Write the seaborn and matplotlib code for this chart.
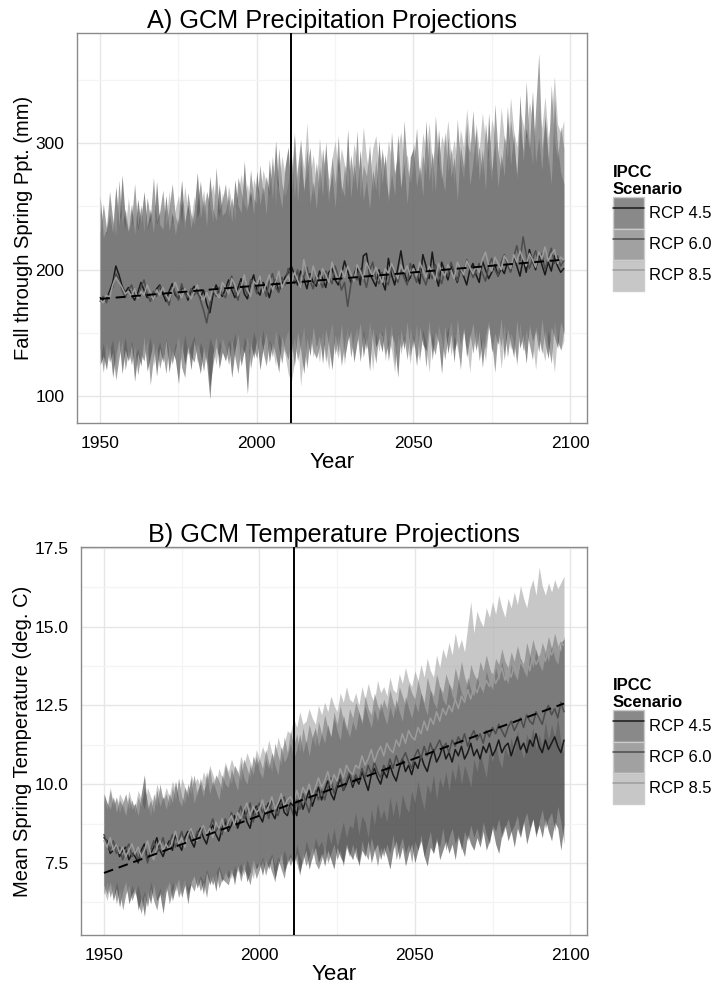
import numpy as np
import pandas as pd
import matplotlib
matplotlib.use("Agg")
import matplotlib.pyplot as plt
import seaborn as sns
from matplotlib.patches import Patch
from matplotlib.lines import Line2D
from matplotlib.ticker import MultipleLocator, FixedLocator
from matplotlib.colors import to_rgba

years = list(range(1950, 2099))
scenarios = ["RCP 4.5", "RCP 6.0", "RCP 8.5"]
vline_year = 2011
trend_years = [1950, 2098]

# ---- A) precipitation (mm) ----
ppt_mean_45 = [
    178, 176, 177, 183, 190, 203, 196, 187, 182, 186,
    180, 176, 182, 190, 184, 178, 181, 176, 185, 188,
    181, 175, 183, 189, 180, 177, 186, 184, 176, 183,
    187, 182, 178, 184, 173, 166, 180, 188, 182, 179,
    185, 192, 184, 178, 186, 193, 181, 177, 189, 196,
    184, 180, 190, 186, 178, 188, 192, 183, 189, 194,
    198, 203, 196, 188, 199, 193, 185, 197, 190, 187,
    199, 193, 186, 198, 201, 192, 188, 196, 207, 199,
    190, 196, 203, 188, 211, 213, 197, 192, 187, 200,
    191, 184, 209, 196, 188, 201, 215, 199, 190, 194,
    204, 197, 189, 212, 203, 193, 214, 196, 187, 206,
    199, 192, 203, 197, 190, 201, 195, 188, 200, 205,
    196, 190, 207, 200, 193, 198, 204, 195, 201, 197,
    206, 199, 211, 203, 195, 208, 198, 216, 207, 200,
    212, 204, 196, 206, 199, 211, 203, 198, 201]
ppt_mean_60 = [
    175, 179, 174, 181, 186, 197, 192, 184, 178, 184,
    188, 181, 177, 186, 192, 181, 175, 183, 179, 187,
    184, 178, 172, 186, 182, 176, 189, 181, 178, 185,
    180, 184, 176, 168, 158, 172, 184, 179, 186, 181,
    178, 188, 195, 182, 176, 190, 186, 180, 192, 189,
    181, 193, 187, 179, 191, 197, 186, 182, 194, 188,
    201, 195, 189, 200, 186, 194, 202, 191, 185, 196,
    192, 186, 199, 194, 189, 203, 195, 184, 190, 171,
    188, 197, 192, 201, 195, 186, 199, 206, 193, 189,
    198, 192, 188, 203, 196, 190, 200, 194, 188, 205,
    197, 190, 201, 194, 188, 199, 193, 204, 196, 189,
    200, 195, 206, 198, 191, 202, 197, 208, 201, 194,
    199, 205, 197, 191, 203, 209, 200, 195, 206, 212,
    204, 198, 210, 219, 207, 226, 212, 201, 208, 215,
    206, 213, 200, 209, 217, 205, 211, 203, 207]
ppt_mean_85 = [
    176, 174, 180, 178, 188, 194, 190, 186, 181, 183,
    179, 185, 177, 183, 180, 188, 182, 176, 184, 180,
    186, 180, 176, 184, 190, 183, 178, 185, 181, 177,
    183, 188, 180, 176, 182, 176, 186, 181, 178, 190,
    186, 181, 193, 188, 180, 186, 196, 184, 179, 191,
    188, 195, 182, 189, 196, 184, 190, 199, 186, 191,
    195, 189, 198, 192, 186, 208, 197, 190, 203, 195,
    189, 201, 196, 190, 206, 198, 192, 200, 194, 203,
    197, 191, 204, 199, 193, 206, 200, 195, 202, 196,
    190, 201, 197, 205, 199, 193, 204, 198, 203, 196,
    201, 195, 206, 200, 194, 203, 198, 192, 205, 199,
    195, 204, 199, 193, 206, 201, 196, 207, 202, 197,
    203, 198, 208, 214, 204, 199, 210, 205, 200, 211,
    207, 201, 212, 206, 215, 209, 203, 213, 208, 202,
    214, 209, 218, 207, 212, 216, 205, 210, 208]

ppt_hi_45 = [
    258, 226, 231, 244, 229, 266, 235, 275, 241, 230,
    252, 228, 256, 237, 262, 233, 248, 229, 270, 236,
    232, 259, 231, 245, 228, 242, 271, 238, 251, 233,
    247, 277, 241, 256, 235, 274, 248, 239, 268, 243,
    246, 259, 238, 271, 251, 245, 286, 249, 262, 244,
    278, 251, 266, 244, 287, 256, 302, 263, 249, 281,
    297, 259, 306, 254, 288, 263, 296, 252, 270, 248,
    283, 258, 301, 261, 276, 249, 289, 266, 258, 311,
    257, 284, 262, 295, 255, 271, 248, 279, 263, 302,
    268, 291, 254, 276, 259, 307, 265, 284, 252, 289,
    296, 266, 281, 258, 318, 270, 293, 262, 311, 276,
    262, 305, 273, 289, 255, 298, 281, 316, 267, 285,
    311, 271, 295, 263, 324, 278, 301, 265, 291, 274,
    329, 283, 307, 272, 338, 286, 312, 296, 341, 285,
    305, 279, 322, 291, 268, 336, 297, 277, 268]
ppt_lo_45 = [
    125, 132, 121, 140, 115, 133, 145, 118, 137, 128,
    141, 112, 134, 124, 147, 120, 131, 143, 116, 138,
    127, 145, 119, 136, 129, 110, 142, 125, 139, 121,
    144, 130, 118, 139, 126, 98, 133, 147, 122, 135,
    128, 141, 115, 136, 149, 124, 137, 102, 143, 130,
    146, 121, 138, 150, 127, 142, 133, 119, 148, 136,
    129, 145, 124, 151, 137, 118, 146, 132, 155, 139,
    148, 126, 153, 140, 121, 149, 135, 157, 130, 144,
    152, 127, 143, 158, 131, 147, 120, 154, 139, 146,
    135, 156, 128, 149, 142, 115, 153, 137, 159, 132,
    147, 124, 155, 141, 136, 160, 129, 151, 143, 118,
    156, 134, 149, 127, 161, 140, 153, 131, 146, 158,
    137, 152, 123, 148, 159, 135, 150, 141, 162, 129,
    154, 143, 131, 160, 138, 149, 126, 157, 144, 152,
    135, 161, 142, 130, 155, 147, 138, 159, 150]
ppt_hi_60 = [
    229, 252, 233, 262, 240, 227, 271, 236, 248, 231,
    239, 268, 234, 251, 230, 257, 241, 273, 238, 246,
    263, 235, 249, 268, 242, 236, 255, 232, 261, 244,
    236, 253, 270, 245, 262, 251, 238, 281, 247, 255,
    268, 242, 257, 239, 273, 262, 251, 247, 279, 256,
    252, 283, 259, 274, 261, 290, 251, 296, 268, 258,
    269, 293, 257, 281, 303, 262, 279, 297, 258, 285,
    261, 296, 272, 253, 289, 268, 306, 259, 282, 264,
    291, 268, 310, 257, 283, 274, 299, 262, 287, 255,
    296, 273, 258, 309, 276, 290, 263, 318, 281, 269,
    283, 312, 269, 291, 275, 304, 261, 322, 286, 271,
    309, 277, 296, 268, 319, 284, 272, 301, 293, 326,
    281, 297, 275, 316, 289, 270, 331, 292, 279, 306,
    288, 318, 299, 276, 312, 294, 349, 301, 283, 327,
    371, 296, 318, 283, 346, 301, 288, 313, 296]
ppt_lo_60 = [
    138, 119, 142, 127, 135, 113, 130, 144, 121, 136,
    125, 140, 117, 133, 128, 145, 109, 131, 139, 122,
    134, 118, 141, 126, 137, 148, 123, 115, 140, 131,
    127, 142, 133, 120, 137, 108, 125, 139, 131, 146,
    138, 125, 144, 131, 118, 140, 134, 147, 122, 137,
    130, 149, 135, 124, 143, 131, 152, 138, 126, 145,
    152, 133, 147, 128, 141, 155, 122, 149, 136, 130,
    139, 151, 127, 146, 158, 133, 148, 124, 142, 155,
    131, 146, 154, 128, 149, 137, 159, 143, 126, 151,
    148, 133, 141, 157, 125, 150, 138, 146, 129, 155,
    138, 157, 131, 148, 123, 152, 140, 133, 156, 145,
    129, 147, 159, 136, 144, 121, 155, 138, 150, 134,
    153, 128, 145, 137, 156, 142, 119, 151, 139, 157,
    131, 150, 144, 127, 158, 136, 153, 141, 129, 155,
    147, 134, 153, 140, 126, 159, 143, 137, 152]
ppt_hi_85 = [
    246, 233, 228, 254, 236, 263, 238, 245, 232, 257,
    235, 249, 231, 244, 258, 232, 239, 252, 236, 243,
    250, 238, 262, 236, 248, 259, 237, 266, 245, 240,
    258, 241, 249, 263, 244, 255, 268, 250, 242, 261,
    249, 266, 252, 244, 260, 276, 255, 268, 250, 272,
    263, 257, 279, 268, 259, 283, 271, 264, 290, 275,
    286, 273, 309, 268, 299, 280, 316, 275, 291, 269,
    304, 279, 293, 271, 288, 302, 276, 296, 283, 278,
    272, 300, 285, 277, 313, 289, 273, 296, 306, 281,
    293, 278, 302, 287, 275, 296, 309, 284, 291, 272,
    301, 287, 279, 308, 293, 316, 285, 298, 281, 306,
    296, 318, 289, 303, 283, 311, 297, 327, 302, 290,
    315, 295, 324, 301, 287, 319, 306, 293, 328, 304,
    299, 336, 310, 297, 326, 315, 303, 333, 318, 306,
    328, 312, 337, 304, 321, 353, 315, 308, 318]
ppt_lo_85 = [
    131, 142, 126, 137, 145, 122, 139, 133, 147, 128,
    144, 131, 138, 126, 141, 135, 147, 124, 136, 143,
    130, 146, 134, 125, 143, 136, 128, 149, 133, 141,
    148, 127, 143, 135, 130, 146, 139, 125, 144, 137,
    129, 145, 138, 150, 132, 126, 147, 140, 135, 151,
    142, 136, 153, 129, 145, 138, 124, 150, 141, 133,
    118, 111, 127, 146, 108, 136, 124, 150, 131, 143,
    127, 148, 136, 121, 152, 139, 130, 147, 125, 154,
    141, 134, 149, 127, 153, 138, 146, 121, 150, 135,
    152, 128, 145, 137, 119, 151, 133, 148, 140, 126,
    149, 136, 128, 153, 142, 119, 150, 137, 145, 131,
    144, 155, 132, 148, 138, 126, 152, 141, 119, 147,
    136, 150, 142, 128, 155, 140, 133, 149, 122, 146,
    153, 137, 147, 124, 151, 139, 132, 156, 144, 121,
    148, 138, 128, 152, 141, 119, 150, 136, 144]
ppt_trend = [177, 208]

# ---- B) spring temperature (deg C) ----
tmp_mean_45 = [
    8.3, 8.2, 7.8, 7.9, 8.1, 7.7, 7.9, 8.0, 7.6, 7.8,
    7.7, 7.5, 7.9, 8.1, 7.6, 7.8, 8.0, 8.3, 7.9, 7.7,
    8.0, 8.2, 7.9, 8.4, 8.1, 7.9, 8.3, 8.5, 8.2, 8.0,
    8.4, 8.6, 8.3, 8.1, 8.5, 8.7, 8.4, 8.2, 8.6, 8.8,
    8.5, 8.7, 9.0, 8.6, 8.9, 9.2, 8.8, 8.6, 9.1, 9.3,
    9.0, 8.8, 9.2, 9.4, 9.1, 8.9, 9.3, 9.5, 9.1, 9.0,
    9.4, 9.3, 9.0, 9.6, 9.2, 9.5, 9.8, 9.3, 9.6, 9.9,
    9.5, 9.8, 10.1, 9.7, 9.5, 9.9, 10.2, 9.8, 10.0, 10.3,
    9.9, 10.2, 10.0, 10.4, 10.1, 9.8, 10.3, 10.5, 10.2, 10.0,
    10.4, 10.2, 10.6, 10.3, 10.1, 10.5, 10.8, 10.4, 10.6, 10.3,
    10.7, 10.5, 10.9, 10.6, 10.4, 10.8, 11.1, 10.7, 10.9, 11.2,
    10.8, 11.0, 10.7, 11.1, 10.9, 11.2, 10.8, 11.0, 11.3, 10.9,
    11.1, 10.8, 11.2, 11.0, 11.3, 10.9, 11.1, 11.4, 11.0, 11.2,
    11.3, 10.9, 11.2, 11.5, 11.1, 11.3, 11.0, 11.4, 11.2, 11.6,
    11.2, 11.0, 11.4, 11.1, 11.3, 11.5, 11.2, 11.0, 11.4]
tmp_mean_60 = [
    8.4, 8.1, 7.9, 8.2, 7.8, 8.0, 7.6, 7.9, 8.1, 7.7,
    7.9, 7.6, 7.8, 8.0, 7.5, 7.9, 8.2, 7.8, 8.0, 8.3,
    7.9, 8.1, 8.4, 8.0, 8.2, 8.5, 8.1, 8.3, 8.6, 8.2,
    8.5, 8.3, 8.7, 8.4, 8.6, 8.9, 8.5, 8.7, 8.4, 8.9,
    8.7, 9.1, 8.8, 9.0, 9.3, 8.9, 9.1, 9.4, 8.8, 9.2,
    9.4, 9.1, 9.3, 8.9, 9.5, 9.2, 9.0, 9.4, 9.6, 9.1,
    9.3, 9.0, 9.5, 9.2, 9.7, 9.4, 9.1, 9.6, 9.8, 9.5,
    9.8, 9.5, 9.9, 10.2, 9.7, 10.0, 10.3, 9.8, 10.1, 10.4,
    10.0, 10.3, 10.1, 10.5, 10.2, 10.6, 10.3, 10.7, 10.4, 10.2,
    10.6, 10.4, 10.8, 10.5, 10.9, 10.6, 10.8, 11.0, 10.7, 10.5,
    10.9, 11.1, 10.8, 11.2, 10.9, 11.3, 11.0, 11.2, 11.4, 11.1,
    11.3, 11.0, 11.4, 11.2, 11.5, 11.3, 11.6, 11.2, 11.5, 11.7,
    11.4, 11.6, 11.3, 11.7, 11.5, 11.8, 11.6, 11.9, 11.7, 11.5,
    11.8, 12.0, 11.7, 11.9, 12.1, 11.8, 12.2, 12.0, 11.9, 12.3,
    12.1, 11.9, 12.3, 12.5, 12.2, 12.4, 12.1, 12.6, 12.3]
tmp_mean_85 = [
    8.2, 8.0, 8.3, 7.9, 8.1, 7.8, 8.0, 7.7, 7.9, 8.1,
    7.8, 8.0, 7.7, 7.9, 8.2, 7.8, 7.6, 8.0, 8.2, 7.9,
    8.1, 7.9, 8.2, 8.5, 8.1, 8.3, 8.0, 8.4, 8.6, 8.3,
    8.2, 8.5, 8.7, 8.4, 8.6, 8.3, 8.8, 8.6, 8.9, 8.5,
    8.8, 9.0, 8.7, 9.1, 8.9, 9.2, 9.4, 9.0, 9.3, 9.1,
    9.2, 9.5, 9.1, 9.3, 9.6, 9.2, 9.4, 9.7, 9.3, 9.5,
    9.6, 9.4, 9.8, 9.5, 9.9, 9.7, 10.0, 9.6, 9.9, 10.2,
    9.9, 10.1, 10.4, 10.0, 10.3, 10.1, 10.5, 10.2, 10.6, 10.4,
    10.3, 10.6, 10.5, 10.9, 10.6, 10.8, 11.1, 10.7, 11.0, 11.2,
    10.9, 11.3, 11.1, 11.0, 11.4, 11.2, 11.6, 11.3, 11.7, 11.5,
    11.4, 11.8, 11.6, 12.0, 11.7, 12.1, 11.9, 12.3, 12.0, 12.4,
    12.2, 12.5, 12.3, 12.7, 12.4, 12.8, 12.6, 13.0, 12.7, 13.1,
    12.9, 13.2, 13.0, 13.3, 13.1, 13.5, 13.2, 13.4, 13.7, 13.3,
    13.6, 13.4, 13.8, 13.5, 13.9, 13.7, 14.0, 13.6, 14.1, 13.8,
    14.0, 14.2, 13.9, 14.3, 14.1, 14.4, 14.2, 14.5, 14.4]

tmp_hi_45 = [
    9.7, 9.4, 9.2, 9.6, 9.1, 9.5, 9.3, 9.0, 9.6, 9.2,
    9.4, 9.0, 9.7, 10.3, 9.2, 9.5, 9.1, 9.8, 9.3, 9.6,
    9.2, 9.7, 9.4, 10.1, 9.5, 9.3, 9.9, 9.6, 10.2, 9.4,
    9.8, 10.0, 9.6, 10.4, 9.7, 10.1, 9.8, 9.5, 10.3, 10.0,
    9.9, 10.5, 10.1, 9.8, 10.7, 10.2, 10.0, 10.6, 10.3, 10.9,
    10.4, 10.2, 10.8, 10.5, 11.0, 10.6, 10.3, 11.2, 10.7, 10.9,
    11.3, 10.8, 11.1, 11.6, 11.0, 11.4, 10.9, 11.5, 11.8, 11.2,
    11.6, 11.3, 11.9, 11.5, 12.1, 11.7, 11.4, 12.2, 11.8, 11.5,
    12.0, 11.7, 12.3, 11.9, 12.5, 12.1, 11.8, 12.4, 12.0, 12.6,
    12.2, 11.9, 12.5, 12.1, 12.7, 12.3, 12.0, 12.8, 12.4, 12.1,
    12.6, 12.3, 12.9, 12.5, 12.2, 13.0, 12.6, 12.4, 13.1, 12.7,
    12.5, 13.2, 12.8, 12.6, 13.3, 12.9, 12.7, 13.4, 13.0, 12.8,
    13.4, 13.1, 12.9, 13.6, 13.2, 13.0, 13.7, 13.3, 13.9, 13.4,
    13.2, 13.8, 13.5, 13.3, 14.0, 13.6, 13.4, 14.1, 13.7, 14.3,
    13.8, 13.6, 14.2, 13.9, 14.4, 14.0, 13.8, 14.5, 14.6]
tmp_lo_45 = [
    6.8, 6.5, 6.9, 6.3, 6.7, 6.1, 6.6, 6.9, 6.2, 6.5,
    6.7, 6.0, 6.4, 5.8, 6.6, 6.2, 6.8, 6.3, 6.5, 5.9,
    6.6, 6.9, 6.3, 6.7, 7.0, 6.4, 6.8, 6.2, 6.9, 7.1,
    6.7, 7.0, 6.5, 7.2, 6.8, 7.1, 6.6, 7.3, 6.9, 7.2,
    7.0, 7.3, 6.8, 7.4, 7.1, 7.5, 6.9, 7.2, 7.6, 7.3,
    7.5, 7.1, 7.6, 7.3, 7.7, 7.0, 7.4, 7.8, 7.2, 7.5,
    7.7, 7.4, 7.8, 7.2, 7.6, 7.9, 7.3, 7.7, 8.0, 7.5,
    7.8, 7.4, 7.9, 7.6, 7.3, 8.0, 7.7, 7.5, 8.1, 7.8,
    7.6, 8.0, 7.4, 7.9, 7.7, 8.2, 7.5, 7.9, 8.1, 7.6,
    8.0, 7.7, 7.3, 7.9, 8.2, 7.6, 8.0, 7.4, 7.8, 8.1,
    7.5, 7.9, 8.2, 7.7, 7.4, 8.0, 7.8, 8.3, 7.6, 7.9,
    8.2, 7.8, 8.1, 7.6, 8.3, 8.0, 7.7, 8.4, 8.1, 7.9,
    8.3, 8.0, 8.5, 7.9, 8.2, 8.6, 8.1, 7.8, 8.4, 8.7,
    8.2, 8.5, 8.0, 8.6, 8.3, 8.8, 8.1, 8.5, 8.9, 8.4,
    8.7, 8.3, 8.9, 8.5, 8.2, 8.8, 8.6, 7.9, 8.7]
tmp_hi_60 = [
    9.5, 9.2, 9.8, 9.3, 9.6, 9.1, 9.4, 9.7, 9.2, 9.5,
    9.1, 9.6, 9.3, 9.9, 9.4, 9.0, 9.7, 9.3, 10.0, 9.5,
    9.7, 9.3, 9.9, 9.5, 10.2, 9.6, 9.4, 10.0, 9.7, 10.3,
    9.6, 10.2, 9.8, 10.0, 10.5, 9.9, 10.3, 10.1, 9.8, 10.6,
    10.3, 10.0, 10.6, 10.4, 10.1, 10.8, 10.5, 10.2, 10.9, 10.6,
    10.8, 10.5, 11.1, 10.7, 10.4, 11.3, 10.9, 10.6, 11.5, 11.0,
    11.7, 11.2, 11.6, 11.0, 11.8, 11.3, 11.9, 11.5, 11.2, 12.0,
    11.6, 12.2, 11.8, 11.5, 12.3, 11.9, 12.5, 12.0, 11.7, 12.4,
    12.1, 12.6, 12.3, 12.0, 12.8, 12.4, 12.2, 12.9, 12.5, 12.3,
    12.7, 12.4, 13.0, 12.6, 12.3, 13.1, 12.8, 12.5, 13.2, 12.9,
    12.7, 13.3, 12.9, 12.6, 13.4, 13.0, 12.8, 13.5, 13.1, 12.9,
    13.5, 13.2, 13.0, 13.7, 13.3, 13.9, 13.4, 13.1, 13.8, 13.5,
    13.3, 13.9, 13.6, 14.1, 13.7, 13.4, 14.0, 13.8, 14.3, 13.9,
    13.7, 14.2, 13.9, 14.4, 14.0, 13.8, 14.5, 14.1, 14.6, 14.2,
    14.0, 14.5, 14.2, 14.7, 14.3, 14.8, 14.4, 14.2, 14.7]
tmp_lo_60 = [
    6.5, 6.9, 6.4, 6.8, 6.2, 6.7, 6.0, 6.5, 6.8, 6.3,
    6.6, 6.2, 5.9, 6.5, 6.1, 6.7, 6.3, 6.0, 6.6, 6.4,
    6.8, 6.2, 6.6, 6.9, 6.4, 6.7, 7.0, 6.5, 6.8, 6.6,
    7.0, 6.6, 6.9, 6.4, 7.1, 6.8, 7.2, 6.7, 7.0, 6.9,
    6.8, 7.2, 7.0, 7.4, 6.9, 7.3, 7.1, 6.8, 7.4, 7.0,
    7.3, 7.6, 7.1, 7.5, 7.2, 6.9, 7.6, 7.3, 7.0, 7.7,
    7.4, 7.8, 7.5, 7.1, 7.8, 7.4, 7.7, 8.0, 7.5, 7.3,
    7.6, 8.0, 7.5, 7.8, 8.1, 7.6, 7.9, 7.4, 8.0, 7.7,
    8.1, 7.7, 7.5, 8.2, 7.8, 7.6, 8.3, 7.9, 7.4, 8.0,
    7.7, 8.1, 7.8, 8.4, 7.6, 8.0, 8.3, 7.8, 8.1, 7.5,
    8.2, 7.9, 8.4, 7.7, 8.1, 8.5, 7.8, 8.2, 8.0, 8.6,
    7.9, 8.3, 8.6, 8.1, 8.4, 7.9, 8.5, 8.2, 8.7, 8.3,
    8.6, 8.2, 8.8, 8.4, 8.1, 8.7, 8.5, 8.9, 8.3, 8.6,
    8.9, 8.5, 8.7, 9.0, 8.4, 8.8, 9.1, 8.6, 8.9, 8.3,
    8.8, 9.2, 8.6, 8.9, 9.1, 8.5, 9.3, 8.8, 8.1]
tmp_hi_85 = [
    9.6, 9.3, 9.9, 9.4, 9.2, 9.7, 9.5, 9.1, 9.8, 9.4,
    9.3, 9.8, 9.5, 9.2, 9.9, 9.6, 9.4, 10.0, 9.7, 9.5,
    9.9, 9.6, 10.1, 9.8, 9.5, 10.2, 9.9, 9.7, 10.3, 10.0,
    10.2, 9.9, 10.4, 10.1, 10.6, 10.3, 10.0, 10.5, 10.2, 10.7,
    10.4, 10.8, 10.5, 10.3, 10.9, 10.6, 11.0, 10.7, 10.5, 11.1,
    10.8, 11.2, 10.9, 11.4, 11.0, 10.8, 11.5, 11.1, 11.3, 11.7,
    11.6, 12.1, 11.8, 12.3, 11.9, 12.0, 12.4, 12.1, 11.9, 12.5,
    12.2, 12.6, 12.3, 12.8, 12.5, 12.3, 12.9, 12.6, 13.1, 12.7,
    12.6, 12.9, 12.5, 13.1, 12.7, 13.2, 12.8, 12.6, 13.3, 12.9,
    13.1, 12.8, 13.4, 13.0, 12.9, 13.5, 13.2, 13.7, 13.3, 13.1,
    13.6, 13.3, 13.8, 13.4, 14.0, 13.6, 13.4, 14.1, 13.7, 14.3,
    14.0, 14.5, 14.1, 14.8, 14.3, 14.6, 14.2, 15.0, 15.8, 14.8,
    15.5, 15.2, 15.0, 15.6, 15.3, 15.8, 15.4, 16.0, 15.6, 15.3,
    15.9, 15.6, 16.1, 15.7, 16.3, 15.9, 15.6, 16.2, 16.5, 16.0,
    16.9, 16.3, 16.0, 16.4, 16.1, 16.5, 16.2, 16.4, 16.6]
tmp_lo_85 = [
    6.6, 6.3, 6.8, 6.4, 6.9, 6.5, 6.2, 6.7, 6.4, 6.8,
    6.5, 6.8, 6.3, 6.6, 6.2, 6.9, 6.5, 6.4, 6.7, 6.3,
    6.7, 6.4, 6.9, 6.6, 6.8, 6.5, 7.0, 6.7, 6.9, 7.1,
    6.8, 7.1, 6.9, 7.3, 7.0, 6.8, 7.2, 7.4, 7.1, 6.9,
    7.3, 7.0, 7.4, 7.2, 7.5, 7.1, 7.6, 7.3, 7.0, 7.5,
    7.4, 7.7, 7.3, 7.6, 7.8, 7.4, 7.7, 7.5, 7.9, 7.6,
    7.8, 7.4, 8.1, 7.7, 7.5, 8.2, 7.9, 7.6, 8.3, 8.0,
    8.2, 7.8, 8.5, 8.1, 8.6, 8.0, 8.4, 8.8, 8.3, 8.7,
    8.6, 9.1, 8.4, 9.0, 8.8, 8.3, 9.2, 8.7, 9.4, 8.9,
    9.2, 8.8, 9.6, 9.0, 9.5, 8.9, 9.7, 9.3, 9.1, 9.8,
    9.4, 10.1, 9.6, 9.2, 10.0, 9.7, 10.3, 9.5, 10.2, 9.9,
    10.4, 9.8, 10.5, 10.1, 10.7, 10.0, 10.6, 10.3, 9.9, 10.8,
    10.4, 11.0, 10.6, 10.2, 11.1, 10.7, 11.3, 10.8, 10.5, 11.2,
    10.9, 11.5, 11.0, 11.7, 11.2, 10.8, 11.6, 11.3, 11.8, 11.1,
    11.6, 11.2, 12.0, 11.4, 11.9, 11.5, 12.1, 11.3, 10.9]
tmp_trend = [7.18, 12.56]

fill_cols = {"RCP 4.5": "#151515", "RCP 6.0": "#454545", "RCP 8.5": "#919191"}
line_cols = {"RCP 4.5": "#1a1a1a", "RCP 6.0": "#4d4d4d", "RCP 8.5": "#9c9c9c"}


def frame(means, los, his):
    parts = []
    for sc, m, lo, hi in zip(scenarios, means, los, his):
        parts.append(pd.DataFrame({"Year": years, "Scenario": sc,
                                   "Mean": m, "Lo": lo, "Hi": hi}))
    return pd.concat(parts, ignore_index=True)


ppt = frame([ppt_mean_45, ppt_mean_60, ppt_mean_85],
            [ppt_lo_45, ppt_lo_60, ppt_lo_85],
            [ppt_hi_45, ppt_hi_60, ppt_hi_85])
tmp = frame([tmp_mean_45, tmp_mean_60, tmp_mean_85],
            [tmp_lo_45, tmp_lo_60, tmp_lo_85],
            [tmp_hi_45, tmp_hi_60, tmp_hi_85])

sns.set_theme(style="whitegrid")
plt.rcParams["font.family"] = ["Liberation Sans", "DejaVu Sans"]
plt.rcParams["text.color"] = "black"
plt.rcParams["axes.labelcolor"] = "black"

fig = plt.figure(figsize=(7.17, 9.89), dpi=100)
axA = fig.add_axes([77 / 717, 1 - 423 / 989, 510 / 717, 390 / 989])
axB = fig.add_axes([81 / 717, 1 - 935 / 989, 506 / 717, 388 / 989])


def panel(ax, df, trend, title, ylabel, ylim, ymaj, ymin):
    for sc in scenarios:
        d = df[df["Scenario"] == sc]
        ax.fill_between(d["Year"], d["Lo"], d["Hi"], color=fill_cols[sc],
                        alpha=0.5, lw=0, zorder=2)
    sns.lineplot(data=df, x="Year", y="Mean", hue="Scenario", hue_order=scenarios,
                 palette=line_cols, linewidth=1.1, errorbar=None, legend=False,
                 ax=ax, zorder=3)
    ax.plot(trend_years, trend, color="black", lw=1.4, ls="--", dashes=(5, 3), zorder=4)
    ax.axvline(vline_year, color="black", lw=1.4, zorder=5)

    ax.set_xlim(1942.6, 2105.4)
    ax.set_ylim(*ylim)
    ax.xaxis.set_major_locator(FixedLocator([1950, 2000, 2050, 2100]))
    ax.xaxis.set_minor_locator(FixedLocator([1975, 2025, 2075]))
    ax.yaxis.set_major_locator(MultipleLocator(ymaj))
    ax.yaxis.set_minor_locator(FixedLocator(ymin))
    ax.grid(which="major", color="#e6e6e6", lw=1.0)
    ax.grid(which="minor", color="#f4f4f4", lw=0.9)
    ax.set_axisbelow(True)
    ax.set_facecolor("white")
    for s in ax.spines.values():
        s.set_color("#8a8a8a")
        s.set_linewidth(1.0)
    ax.tick_params(which="major", direction="out", length=5.5, width=1.1,
                   color="#333333", labelsize=12.5, labelcolor="black", pad=3.5)
    ax.tick_params(which="minor", length=0)
    ax.set_title(title, fontsize=18.2, pad=3.6, color="black")
    ax.set_xlabel("Year", fontsize=16, labelpad=1.0, color="black")
    ax.set_ylabel(ylabel, fontsize=14.5, labelpad=1.5, color="black")


panel(axA, ppt, ppt_trend, "A) GCM Precipitation Projections",
      "Fall through Spring Ppt. (mm)", (79, 387), 100, [150, 250, 350])
panel(axB, tmp, tmp_trend, "B) GCM Temperature Projections",
      "Mean Spring Temperature (deg. C)", (5.21, 17.53), 2.5,
      [6.25, 8.75, 11.25, 13.75, 16.25])

handles = [(Patch(facecolor=to_rgba(fill_cols[sc], 0.5), edgecolor="#cccccc", lw=1.0),
            Line2D([], [], color=line_cols[sc], lw=1.1)) for sc in scenarios]
for yc in (1 - 228 / 989, 1 - 741 / 989):
    leg = fig.legend(handles, scenarios, loc="center left", bbox_to_anchor=(613 / 717, yc),
                     frameon=False, borderpad=0, borderaxespad=0, fontsize=12,
                     handlelength=1.875, handleheight=2.5, handletextpad=0.3,
                     labelspacing=0, title="IPCC\nScenario", alignment="left",
                     labelcolor="black",
                     title_fontproperties={"weight": "bold", "size": 12})
    leg.get_title().set_color("black")

fig.savefig("out.png", dpi=100, facecolor="white")
